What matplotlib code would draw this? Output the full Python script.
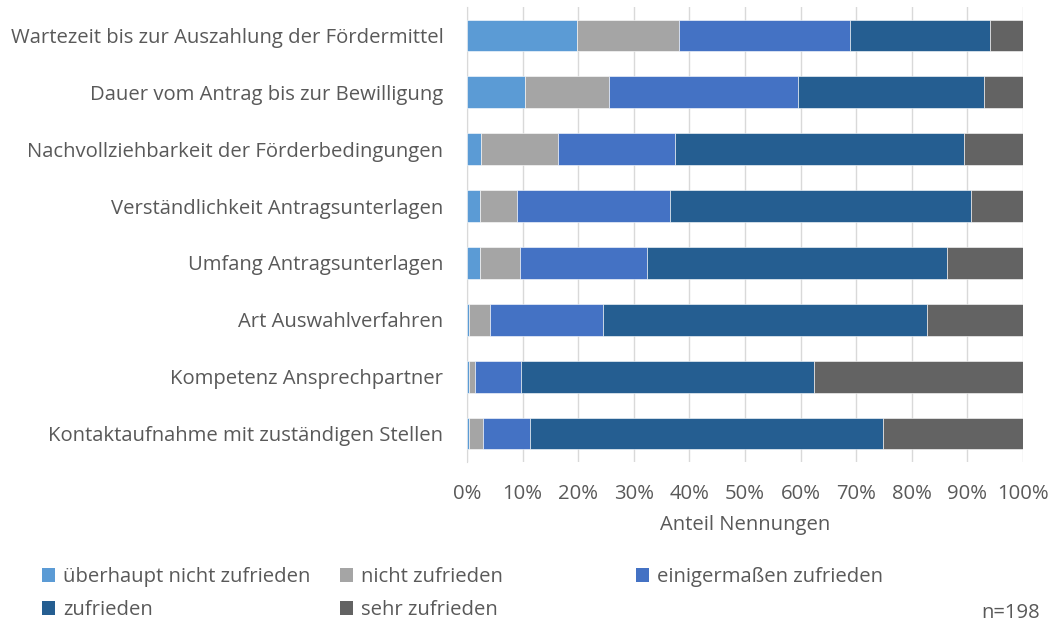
import matplotlib
matplotlib.use("Agg")
import matplotlib.pyplot as plt
import numpy as np
from matplotlib.patches import Patch

plt.rcParams['font.family'] = ['Open Sans', 'DejaVu Sans']

categories = [
    "Wartezeit bis zur Auszahlung der Fördermittel",
    "Dauer vom Antrag bis zur Bewilligung",
    "Nachvollziehbarkeit der Förderbedingungen",
    "Verständlichkeit Antragsunterlagen",
    "Umfang Antragsunterlagen",
    "Art Auswahlverfahren",
    "Kompetenz Ansprechpartner",
    "Kontaktaufnahme mit zuständigen Stellen",
]
series_names = ["überhaupt nicht zufrieden", "nicht zufrieden", "einigermaßen zufrieden",
                "zufrieden", "sehr zufrieden"]
ueberhaupt_nicht = [19.7, 10.4, 2.5, 2.4, 2.4, 0.4, 0.4, 0.4]
nicht = [18.4, 15.1, 13.9, 6.6, 7.1, 3.8, 1.1, 2.5]
einigermassen = [30.7, 34.1, 21.0, 27.6, 22.9, 20.2, 8.3, 8.5]
zufrieden = [25.3, 33.4, 51.9, 54.0, 54.0, 58.3, 52.6, 63.5]
sehr = [5.9, 7.0, 10.7, 9.4, 13.6, 17.4, 37.6, 25.1]
colors = ["#5B9BD5", "#A5A5A5", "#4472C4", "#255E91", "#636363"]
xticks = list(range(0, 101, 10))
xticklabels = [f"{t}%" for t in xticks]

data = [ueberhaupt_nicht, nicht, einigermassen, zufrieden, sehr]
textc = "#595959"
fs = 14.6

fig = plt.figure(figsize=(10.54, 6.25), dpi=100)
ax = fig.add_axes([467/1054, 1 - 462/625, (1023-467)/1054, (462-7)/625])

y = np.arange(len(categories))
left = np.zeros(len(categories))
handles = []
for vals, name, c in zip(data, series_names, colors):
    vals = np.array(vals)
    ax.barh(y, vals, left=left, height=0.56, color=c, edgecolor="white", linewidth=0.4, label=name, zorder=3)
    left += vals
    handles.append(Patch(facecolor=c, label=name))

ax.set_ylim(len(categories) - 0.5, -0.5)
ax.set_xlim(0, 100)
ax.set_xticks(xticks)
ax.set_xticklabels(xticklabels)
ax.set_yticks(y)
ax.set_yticklabels(categories)
ax.tick_params(axis='both', length=0, labelsize=fs, colors=textc)
ax.tick_params(axis='x', pad=15.5)
ax.tick_params(axis='y', pad=17)
ax.grid(axis='x', color="#D9D9D9", linewidth=1, zorder=0)
for s in ['top', 'right', 'bottom']:
    ax.spines[s].set_visible(False)
ax.spines['left'].set_color("#D9D9D9")
ax.set_xlabel("Anteil Nennungen", fontsize=fs, color=textc, labelpad=8)

col_groups = [[0, 3], [1, 4], [2]]
col_x = [42/1054, 340/1054, 636/1054]
for xs, idx in zip(col_x, col_groups):
    leg = fig.legend(handles=[handles[i] for i in idx], loc='upper left',
                     bbox_to_anchor=(xs, 1 - 567/625), frameon=False,
                     fontsize=fs, handlelength=0.65, handleheight=0.65,
                     handletextpad=0.4, labelspacing=0.65, borderpad=0, borderaxespad=0)
    for t in leg.get_texts():
        t.set_color(textc)

fig.text(1040/1054, 1 - 613/625, "n=198", ha='right', va='center', fontsize=fs, color=textc)

fig.savefig("out.png", dpi=100)
